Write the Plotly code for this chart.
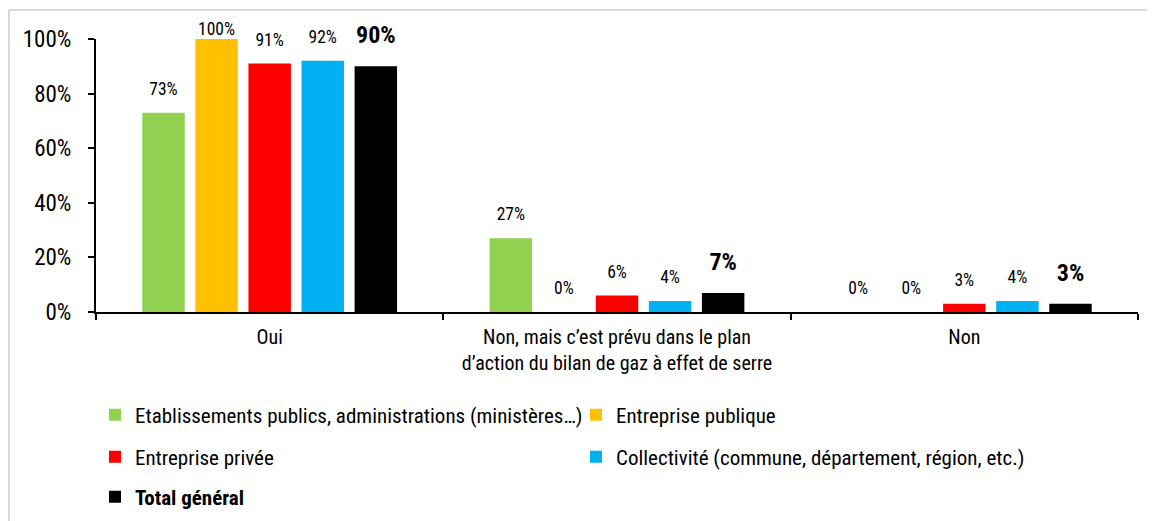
import plotly.graph_objects as go

categories = ["Oui",
              "Non, mais c’est prévu dans le plan<br>d’action du bilan de gaz à effet de serre",
              "Non"]
series_names = ["Etablissements publics, administrations (ministères…)",
                "Entreprise publique",
                "Entreprise privée",
                "Collectivité (commune, département, région, etc.)",
                "<b>Total général</b>"]
etablissements = [0.73, 0.27, 0.0]
entreprise_publique = [1.00, 0.0, 0.0]
entreprise_privee = [0.91, 0.06, 0.03]
collectivite = [0.92, 0.04, 0.04]
total_general = [0.90, 0.07, 0.03]
colors = ["#92D050", "#FFC000", "#FF0000", "#00B0F0", "#000000"]
legends = ["legend", "legend", "legend2", "legend2", "legend3"]
tick_vals = [0, 0.2, 0.4, 0.6, 0.8, 1.0]
tick_text = ["0%", "20%", "40%", "60%", "80%", "100%"]

FONT = "Roboto Condensed, Liberation Sans Narrow, Roboto, sans-serif"
BARGAP = 0.236

values = [etablissements, entreprise_publique, entreprise_privee, collectivite, total_general]
fig = go.Figure()
for i, (name, vals) in enumerate(zip(series_names, values)):
    fig.add_trace(go.Bar(
        x=categories, y=vals, name=name,
        marker=dict(color=colors[i], line=dict(width=0)),
        legend=legends[i], offsetgroup=f"g{i}", hoverinfo="skip",
    ))
for i, (name, vals) in enumerate(zip(series_names, values)):
    bold = i == 4
    labels = [f"<b>{round(v*100)}%</b>" if bold else f"{round(v*100)}%" for v in vals]
    # labels sit a little above the bars; near the top of the chart they are pulled closer
    base_size = 26 if bold else 20
    sizes = [0 if v >= 0.99 else base_size for v in vals]
    fig.add_trace(go.Scatter(
        x=categories, y=vals, mode="markers+text", text=labels,
        textposition="top center",
        textfont=dict(size=24 if bold else 17.5, color="#000000", family=FONT),
        marker=dict(size=sizes, opacity=0, color=colors[i]),
        showlegend=False, hoverinfo="skip", cliponaxis=False,
        offsetgroup=f"g{i}",
    ))

# page body has an 8px margin: size the figure so it fills the visible window
OFF = 8
W, H = 1155 - OFF, 521 - OFF
L, R, T, B = 96 - OFF, 1155 - 1138, 39 - OFF, (521 - 312)
pw, ph = W - L - R, H - T - B


def px(x):
    return (x - OFF - L) / pw


def py(y):
    return (H - B - (y - OFF)) / ph


leg_common = dict(orientation="h", entrywidth=436, entrywidthmode="pixels",
                  font=dict(size=21, family=FONT, color="#000000"),
                  xanchor="left", yanchor="middle", bgcolor="rgba(0,0,0,0)",
                  itemclick=False, itemdoubleclick=False, traceorder="normal")

fig.update_layout(
    width=W, height=H,
    margin=dict(l=L, r=R, t=T, b=B, pad=0, autoexpand=False),
    paper_bgcolor="white", plot_bgcolor="white",
    font=dict(family=FONT, color="#000000"),
    barmode="group", bargap=BARGAP, bargroupgap=0.2,
    scattermode="group", scattergap=BARGAP,
    showlegend=True,
    legend=dict(x=px(95), y=py(415), **leg_common),
    legend2=dict(x=px(95), y=py(457), **leg_common),
    legend3=dict(x=px(95), y=py(497), **leg_common),
    xaxis=dict(showline=True, linecolor="#000000", linewidth=2,
               ticks="outside", tickson="boundaries", ticklen=6, tickcolor="#000000",
               tickwidth=1.5, ticklabelstandoff=6,
               tickfont=dict(size=20, family=FONT, color="#000000"),
               showgrid=False, zeroline=False),
    yaxis=dict(range=[0, 1], tickvals=tick_vals, ticktext=tick_text,
               showline=True, linecolor="#000000", linewidth=2,
               ticks="outside", ticklen=6, tickcolor="#000000", tickwidth=1.5,
               ticklabelstandoff=12,
               tickfont=dict(size=23, family=FONT, color="#000000"),
               showgrid=False, zeroline=False),
    shapes=[
        dict(type="line", xref="paper", yref="paper", x0=px(9), x1=px(1160), y0=py(10), y1=py(10),
             line=dict(color="#D9D9D9", width=2)),
        dict(type="line", xref="paper", yref="paper", x0=px(9), x1=px(9), y0=py(10), y1=py(530),
             line=dict(color="#D9D9D9", width=2)),
    ],
)

fig.write_html("out.html")
